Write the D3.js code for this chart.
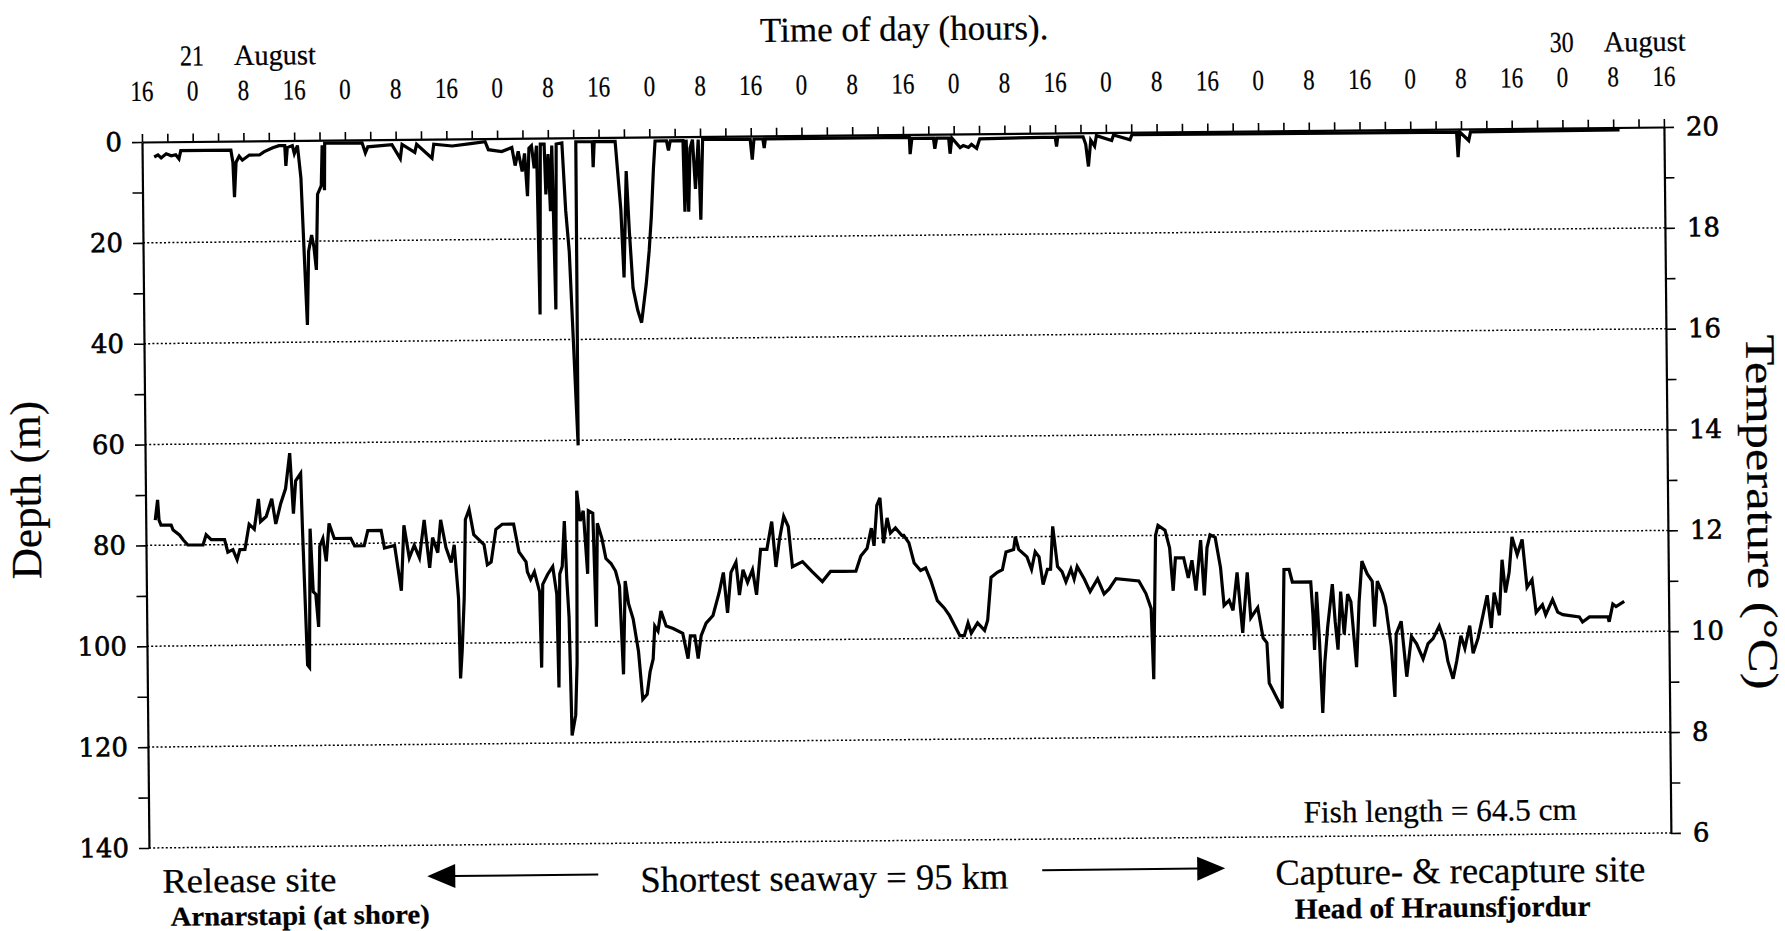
<!DOCTYPE html>
<html lang="en">
<head>
<meta charset="UTF-8" />
<title>Depth and temperature record</title>
<script src="https://d3js.org/d3.v7.min.js"></script>
<style>
  body { margin: 0; background: #fff; }
  svg { display: block; }
  .serif { font-family: "Liberation Serif", "Times New Roman", serif; fill: #000; stroke: #000; stroke-width: 0.25; }
  .grid { stroke: #000; stroke-width: 1.5; stroke-dasharray: 2 2.2; }
  .trace { fill: none; stroke: #000; stroke-width: 3.2; stroke-linejoin: miter; }
</style>
</head>
<body>
<div id="chart"></div>
<script>
// hours since 16:00 on 20 August
const clockLabels = ["16","0","8","16","0","8","16","0","8","16","0","8","16","0","8","16",
  "0","8","16","0","8","16","0","8","16","0","8","16","0","8","16"];
const depthTicks = [0, 20, 40, 60, 80, 100, 120, 140];
const tempTicks = [6, 8, 10, 12, 14, 16, 18, 20];

// [hour, depth m]
const depthSeries = [
  [1.9,3.0],[2.5,2.6],[3.0,3.2],[3.8,2.4],[4.6,2.8],[5.3,2.6],[5.8,3.4],[6.1,1.8],[14.0,1.8],
  [14.3,4.2],[14.5,11.1],[14.8,4.2],[15.3,3.0],[15.8,3.8],[16.9,2.8],[18.5,2.8],[19.2,2.2],
  [20.6,1.4],[21.6,1.0],[22.5,1.0],[22.65,5.0],[22.9,1.4],[23.7,1.0],[24.0,2.6],[24.5,1.0],
  [25.0,7.4],[25.5,26],[25.8,36.6],[26.1,22],[26.6,18.8],[26.95,21.2],[27.3,25.7],[27.6,10.7],
  [28.2,9],[28.4,1],[28.7,9.9],[28.8,0.6],[34.7,0.6],[35.2,2.6],[35.6,1.4],[39.4,1.0],
  [40.7,3.8],[41.0,1.0],[43.0,2.6],[43.3,1.0],[45.7,3.8],[46.0,1.0],[48.9,1.4],[51.5,1.0],
  [54.1,0.6],[54.6,2.2],[56.7,2.6],[58.3,1.8],[58.8,5.4],[59.3,2.6],[59.9,6.6],[60.3,3],
  [60.7,11.5],[61.0,2],[61.4,1.5],[61.8,6],[62.2,1.5],[62.5,35],[62.8,1.2],[63.4,1.2],
  [63.6,11.2],[64.0,3.2],[64.3,14.5],[64.6,1.5],[65.0,34],[65.3,1.2],[66.2,1.0],[66.7,14.4],
  [67.2,22.6],[67.7,40],[68.3,61],[68.4,0.8],[71.0,0.8],[71.1,5.9],[71.3,0.8],[74.6,0.8],
  [75.4,14.4],[75.8,27.8],[76.3,6.7],[76.7,18.5],[77.2,29.9],[77.9,34.3],[78.5,36.8],[79.3,29],
  [79.8,22.6],[80.2,15.7],[80.6,6.3],[80.9,0.8],[82.7,0.8],[83.0,2.7],[83.3,0.8],[85.3,0.8],
  [85.5,14.9],[85.8,0.6],[86.1,14.9],[86.4,2.3],[86.8,0.6],[87.2,10.4],[87.7,0.6],[88.0,16.5],
  [88.4,0.6],[95.9,0.6],[96.2,4.7],[96.5,0.6],[97.9,0.6],[98.1,2.4],[98.3,0.6],[121.0,0.6],
  [121.1,3.9],[121.4,0.8],[124.8,0.8],[125.0,2.9],[125.3,0.8],[127.2,0.8],[127.4,3.9],[127.7,0.8],
  [129.0,2.7],[129.5,2.3],[130.3,2.7],[130.8,2.1],[131.6,2.9],[132.1,1.0],[144.0,0.8],[144.2,2.7],
  [144.4,0.8],[148.4,0.8],[148.8,2.3],[149.2,6.7],[149.6,1.5],[150.2,2.7],[150.5,0.6],[152.9,1.6],
  [153.2,0.5],[155.8,1.5],[156.1,0.5],[207.3,0.6],[207.5,5.6],[207.8,0.6],[209.2,2.3],[209.5,0.6],
  [233.0,0.5]
];

// [hour, temperature °C]
const tempSeries = [
  [1.5,12.5],[1.9,12.9],[2.1,12.5],[2.4,12.4],[4.0,12.4],[4.3,12.3],[5.3,12.2],[5.9,12.1],
  [6.6,12.0],[9.0,12.0],[9.5,12.2],[10.3,12.1],[12.4,12.1],[12.9,11.85],[13.7,11.9],[14.35,11.7],
  [14.8,11.9],[15.6,11.9],[16.3,12.4],[17.1,12.3],[17.8,12.9],[18.1,12.45],[19.0,12.55],[19.9,12.9],
  [20.5,12.4],[21.3,12.8],[22.1,13.1],[22.8,13.8],[23.3,12.6],[23.7,13.25],[24.5,13.4],[24.7,12.3],
  [25.3,9.6],[25.6,9.55],[25.9,12.3],[26.3,11.05],[26.7,11.0],[27.1,10.35],[27.4,11.95],[27.9,12.1],
  [28.4,11.65],[28.9,12.4],[29.7,12.1],[32.3,12.1],[32.9,11.95],[34.4,11.95],[35.0,12.25],[37.1,12.25],
  [37.6,11.9],[39.2,11.95],[40.2,11.05],[40.7,12.35],[41.5,11.7],[42.3,11.95],[43.1,11.7],[43.9,12.45],
  [44.7,11.5],[45.2,12.1],[46.0,11.8],[46.5,12.45],[47.3,11.9],[48.1,11.6],[48.6,11.95],[49.2,10.9],
  [49.4,9.3],[49.7,9.85],[50.1,10.9],[50.4,12.45],[51.0,12.65],[51.7,12.15],[52.5,12.05],[53.3,11.95],
  [53.8,11.55],[54.4,11.6],[55.2,12.25],[56.2,12.35],[58.0,12.35],[58.8,11.8],[59.9,11.6],
  [60.1,11.4],[60.6,11.25],[61.2,11.4],[62.0,11.0],[62.2,9.5],[62.5,11.15],[63.3,11.35],[64.1,11.5],
  [64.7,10.95],[64.9,9.1],[65.2,11.35],[65.6,11.5],[66.0,12.4],[66.3,11.25],[66.6,10.5],[66.9,8.15],
  [67.5,8.55],[67.8,9.6],[68.0,13.0],[68.5,12.4],[69.0,12.6],[69.6,11.35],[69.8,12.6],[70.5,12.55],
  [70.9,10.3],[71.2,12.35],[71.9,12.05],[72.5,11.65],[73.3,11.55],[74.0,11.4],[74.6,11.1],[75.1,9.35],
  [75.5,11.2],[76.0,10.75],[76.7,10.45],[77.5,9.8],[78.1,8.85],[78.8,8.95],[79.3,9.4],[79.8,9.65],
  [80.1,10.3],[80.6,10.2],[81.1,10.6],[81.9,10.3],[83.0,10.25],[84.5,10.15],[85.3,9.65],[85.7,10.1],
  [86.4,10.1],[86.9,9.65],[87.4,10.1],[88.2,10.35],[89.3,10.5],[90.3,10.95],[91.0,11.35],[91.6,10.55],
  [92.2,11.35],[93.0,11.55],[93.5,10.9],[94.1,11.4],[94.8,11.15],[95.6,11.4],[96.2,10.9],[96.9,11.8],
  [97.9,11.8],[98.7,12.35],[99.3,11.45],[99.9,12.0],[100.6,12.45],[101.3,12.25],[101.9,11.45],
  [103.5,11.55],[105.0,11.35],[106.6,11.15],[107.9,11.35],[109.8,11.35],[111.9,11.35],[112.7,11.65],
  [113.7,11.8],[114.4,12.2],[114.8,11.85],[115.3,12.65],[115.8,12.8],[116.3,11.9],[116.9,12.4],
  [117.4,12.1],[118.2,12.2],[119.2,12.05],
  [119.5,12.05],[120.3,11.9],[121.1,11.5],[122.1,11.35],[122.9,11.4],[123.7,11.15],[124.7,10.75],
  [125.8,10.6],[126.6,10.45],[127.4,10.25],[128.2,10.05],[128.9,10.05],[129.5,10.3],[130.0,10.1],
  [131.0,10.3],[132.1,10.15],[132.6,10.35],[133.2,11.2],[134.2,11.3],[135.0,11.35],[135.6,11.7],
  [136.8,11.75],[137.1,12.0],[137.6,11.75],[138.9,11.6],[139.6,11.35],[140.2,11.7],[140.8,11.6],
  [141.4,11.05],[142.1,11.35],[142.6,11.35],[143.0,12.2],[143.7,11.4],[144.4,11.3],[145.0,11.1],
  [145.8,11.35],[146.3,11.15],[146.8,11.4],[147.9,11.15],[148.8,10.9],[150.0,11.15],[151.0,10.85],
  [151.8,10.95],[152.9,11.15],[156.5,11.1],[157.6,10.85],[158.4,10.55],[158.7,9.15],[159.2,12.0],
  [159.6,12.2],[160.7,12.1],[161.4,11.75],[161.9,10.9],[162.3,11.55],[163.6,11.55],[164.3,11.15],
  [164.9,11.5],[165.5,10.9],[166.3,11.9],[166.8,10.8],[167.3,11.75],[167.8,12.0],[168.6,11.95],
  [169.4,11.35],[169.9,10.6],[170.7,10.7],[171.3,10.5],[172.0,11.25],[172.8,10.05],[173.6,11.25],
  [174.1,10.35],[175.2,10.55],[176.0,9.95],[176.6,9.85],[176.9,9.05],[178.1,8.75],[178.9,8.55],
  [179.4,11.3],[180.2,11.3],
  [180.7,11.05],[183.6,11.05],[183.9,10.4],[184.1,9.7],[184.5,10.85],[184.9,9.85],[185.3,8.45],
  [185.7,9.45],[186.2,10.15],[187.0,11.0],[187.4,10.25],[187.8,9.7],[188.3,10.85],[188.8,10.0],
  [189.4,10.8],[189.9,10.65],[190.7,9.35],[191.2,10.65],[191.7,11.45],[192.5,11.2],[193.3,11.05],
  [193.6,10.15],[194.1,11.05],[194.9,10.8],[195.4,10.55],[196.2,9.75],[196.7,8.75],[197.0,10.0],
  [197.8,10.25],[198.6,9.15],[199.4,9.95],[200.2,9.8],[201.2,9.5],[202.0,9.8],[202.8,9.9],
  [203.8,10.15],[204.6,9.85],[205.1,9.45],[205.9,9.1],[206.5,9.45],[207.2,9.95],[207.8,9.7],
  [208.6,10.15],[209.1,9.6],[209.9,9.9],[210.7,10.35],[211.4,10.75],[212.0,10.1],[212.5,10.8],
  [213.3,10.35],[213.8,11.45],[214.3,10.8],[214.9,11.2],[215.4,11.9],[216.2,11.55],[217.0,11.85],
  [217.7,10.9],[218.5,11.05],[219.1,10.4],[220.1,10.55],[220.6,10.35],[221.7,10.65],[222.5,10.4],
  [223.3,10.35],[225.9,10.3],[226.4,10.2],[227.5,10.3],[230.4,10.3],[230.6,10.2],[231.2,10.55],
  [231.7,10.5],[233.0,10.6]
];

const width = 1785, height = 931;
const plot = { left: 142, right: 1664, top: 142, bottom: 848 };

const svg = d3.select("#chart").append("svg")
  .attr("width", width)
  .attr("height", height);

// the scanned figure is tilted a little, so the whole drawing is turned
const g = svg.append("g")
  .attr("transform", `rotate(-0.565 ${plot.left} ${plot.top})`);

const x = d3.scaleLinear().domain([0, 240]).range([plot.left, plot.right]);
const yDepth = d3.scaleLinear().domain([0, 140]).range([plot.top, plot.bottom]);
const yTemp = d3.scaleLinear().domain([6, 20]).range([plot.bottom, plot.top]);

// dotted grid lines
g.append("g").selectAll("line")
  .data(depthTicks.filter(d => d > 0))
  .join("line")
  .attr("class", "grid")
  .attr("x1", plot.left).attr("x2", plot.right)
  .attr("y1", d => yDepth(d)).attr("y2", d => yDepth(d));

// top time axis (ticks every 4 h, labels every 8 h)
const topAxis = g.append("g")
  .attr("transform", `translate(0,${plot.top})`)
  .call(d3.axisTop(x)
    .tickValues(d3.range(0, 241, 4))
    .tickSize(8).tickSizeOuter(0).tickPadding(33)
    .tickFormat(h => h % 8 === 0 ? clockLabels[h / 8] : ""));
topAxis.select(".domain").attr("stroke-width", 2.2);
topAxis.selectAll(".tick line").attr("stroke-width", 1.6);
topAxis.selectAll("text")
  .attr("class", "serif").style("font-size", "29px")
  .each(function () {
    const s = d3.select(this).text();
    if (s) d3.select(this).attr("textLength", s.length * 11.5).attr("lengthAdjust", "spacingAndGlyphs");
  });

// left depth axis
const leftAxis = g.append("g")
  .attr("transform", `translate(${plot.left},0)`)
  .call(d3.axisLeft(yDepth)
    .tickValues(d3.range(0, 141, 10))
    .tickSize(10).tickSizeOuter(0).tickPadding(10)
    .tickFormat(d => depthTicks.includes(d) ? d : ""));
leftAxis.select(".domain").attr("stroke-width", 2.2);
leftAxis.selectAll(".tick line").attr("stroke-width", 1.6);
leftAxis.selectAll("text")
  .style("font-family", "'DejaVu Serif', serif").style("font-size", "26px")
  .attr("stroke", "#000").attr("stroke-width", 0.6);

// right temperature axis
const rightAxis = g.append("g")
  .attr("transform", `translate(${plot.right},0)`)
  .call(d3.axisRight(yTemp)
    .tickValues(d3.range(6, 21, 1))
    .tickSize(10).tickSizeOuter(0).tickPadding(12)
    .tickFormat(d => tempTicks.includes(d) ? d : ""));
rightAxis.select(".domain").attr("stroke-width", 2.2);
rightAxis.selectAll(".tick line").attr("stroke-width", 1.6);
rightAxis.selectAll("text")
  .style("font-family", "'DejaVu Serif', serif").style("font-size", "26px")
  .attr("stroke", "#000").attr("stroke-width", 0.6);

// traces
g.append("path")
  .datum(depthSeries)
  .attr("class", "trace")
  .attr("d", d3.line().x(d => x(d[0])).y(d => yDepth(d[1])));

g.append("path")
  .datum(tempSeries)
  .attr("class", "trace")
  .attr("d", d3.line().x(d => x(d[0])).y(d => yTemp(d[1])));

// texts
function label(txt, px, py, size, opts = {}) {
  const t = g.append("text")
    .attr("class", "serif")
    .attr("x", px).attr("y", py)
    .style("font-size", size + "px")
    .attr("text-anchor", opts.anchor || "start")
    .text(txt);
  if (opts.bold) t.style("font-weight", "bold");
  if (opts.len) t.attr("textLength", opts.len).attr("lengthAdjust", "spacingAndGlyphs");
  if (opts.rotate) t.attr("transform", `rotate(${opts.rotate} ${px} ${py})`);
  return t;
}

label("Time of day (hours).", 761, 48, 35);
label("21", x(8), 66, 29, { anchor: "middle", len: 24 });
label("August", x(8) + 42, 66, 29, { len: 82 });
label("30", x(224), 66, 29, { anchor: "middle", len: 24 });
label("August", x(224) + 42, 66, 29, { len: 82 });

label("Depth (m)", 37, 489, 43, { anchor: "middle", rotate: -90 });
label("Temperature (°C)", 1744, 528, 42, { anchor: "middle", rotate: 90, len: 355 });

label("Fish length = 64.5 cm", 1297, 834, 31, { len: 273 });

label("Release site", 155, 893, 34.5, { len: 174 });
label("Arnarstapi (at shore)", 163, 926, 27, { bold: true, len: 259 });
label("Shortest seaway = 95 km", 633, 897, 36.5, { len: 368 });
label("Capture- & recapture site", 1268, 896, 36.5, { len: 370 });
label("Head of Hraunsfjordur", 1287, 930, 29, { bold: true, len: 296 });

// arrows
const arrowY = 879;
g.append("line").attr("x1", 446).attr("x2", 591).attr("y1", arrowY).attr("y2", arrowY)
  .attr("stroke", "#000").attr("stroke-width", 2);
g.append("path").attr("d", `M420,${arrowY}L448,${arrowY - 12}L448,${arrowY + 12}Z`).attr("fill", "#000");
g.append("line").attr("x1", 1035).attr("x2", 1192).attr("y1", arrowY).attr("y2", arrowY)
  .attr("stroke", "#000").attr("stroke-width", 2);
g.append("path").attr("d", `M1218,${arrowY}L1190,${arrowY - 12}L1190,${arrowY + 12}Z`).attr("fill", "#000");
</script>
</body>
</html>
